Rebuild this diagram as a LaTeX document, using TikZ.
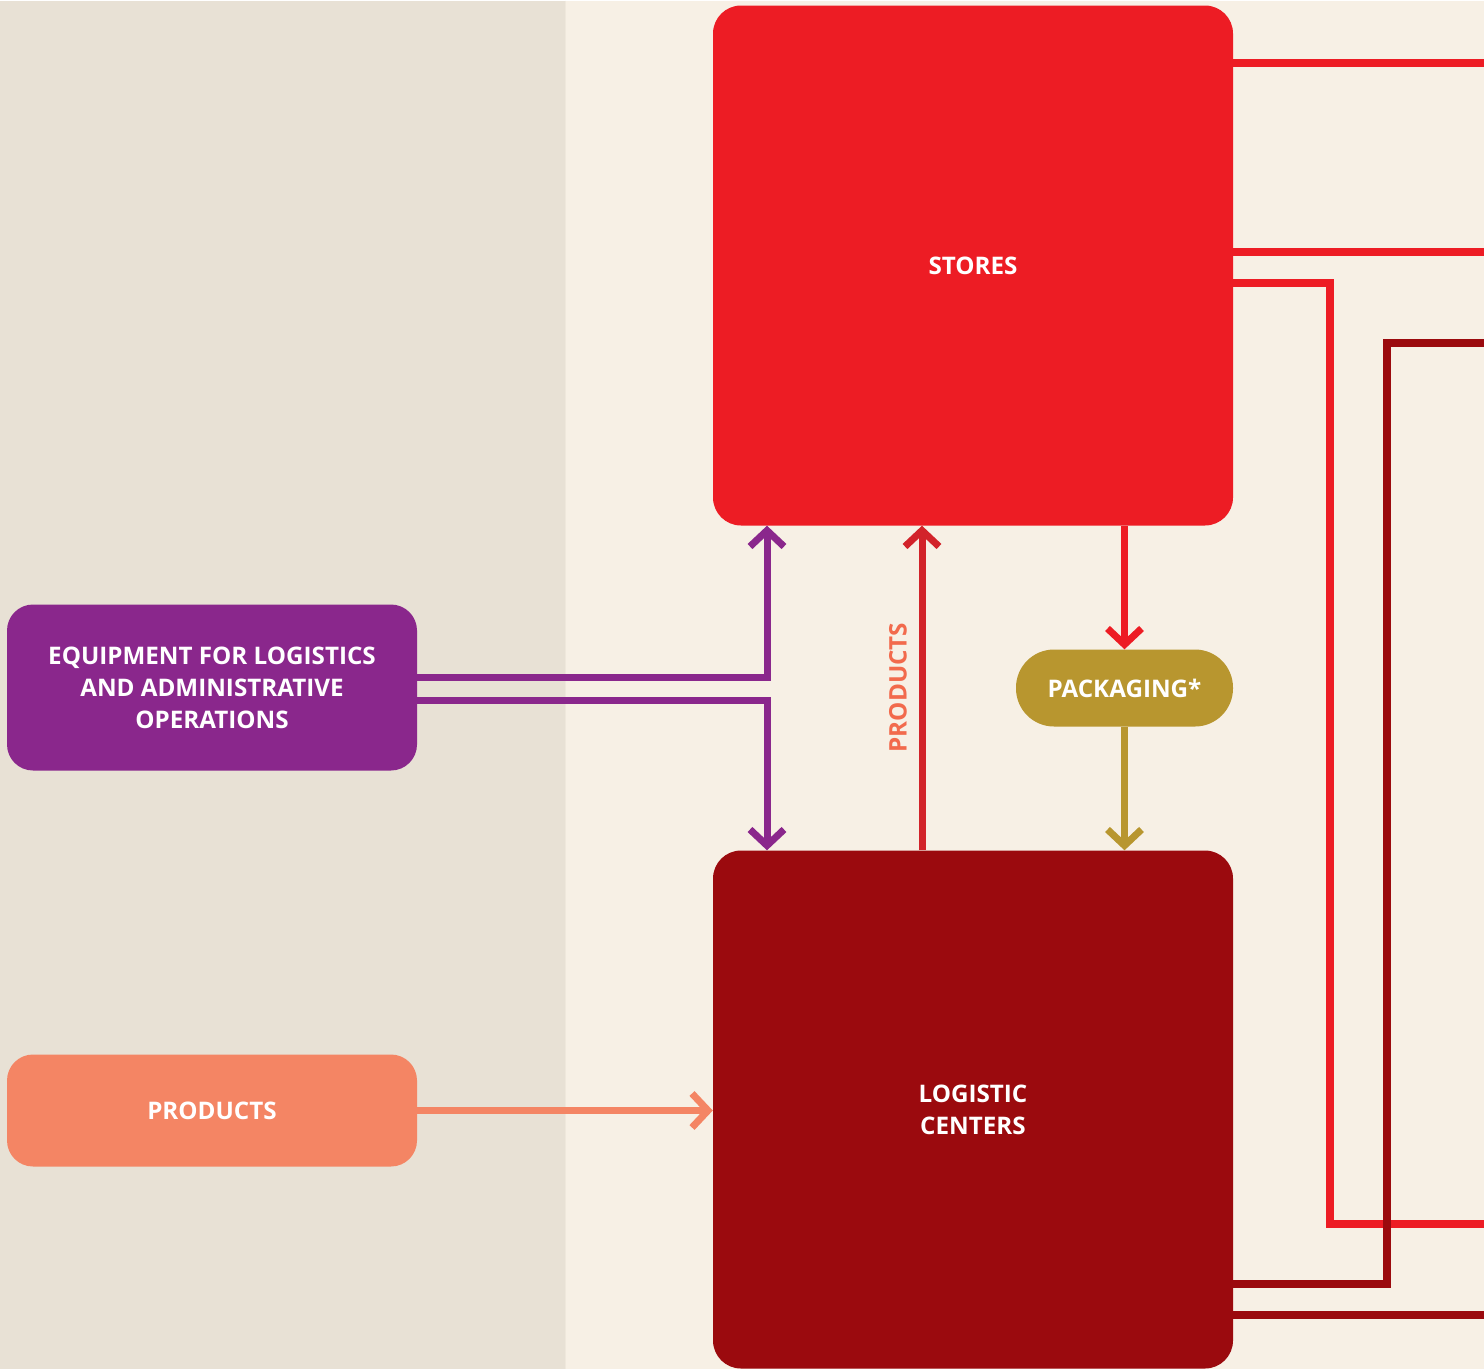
\documentclass[tikz,border=0pt]{standalone}
\usepackage{fontspec}
\setmainfont{Open Sans}
\usetikzlibrary{arrows.meta}

\definecolor{leftbg}{HTML}{E8E1D5}
\definecolor{rightbg}{HTML}{F7F0E5}
\definecolor{sepcol}{HTML}{EFE8DC}
\definecolor{storered}{HTML}{ED1C24}
\definecolor{logired}{HTML}{9B0A0E}
\definecolor{equippurple}{HTML}{8A278C}
\definecolor{prodsalmon}{HTML}{F48564}
\definecolor{packgold}{HTML}{B8962F}
\definecolor{prodline}{HTML}{D2232A}
\definecolor{prodlabel}{HTML}{F26A4C}

\newcommand{\boxfont}{\fontsize{24.2}{32}\selectfont\bfseries}

\begin{document}
\begin{tikzpicture}[x=1pt,y=-1pt,
  box/.style={rounded corners=28pt, text=white, font=\boxfont, align=center,
              inner sep=0pt, draw=none},
  flow/.style={line width=7pt, line join=miter},
  barb/.style={-{Straight Barb[length=16pt,width=34pt,line join=miter]}},
  exitline/.style={line width=8pt}]

% two background panels
\fill[leftbg] (0,0) rectangle (565,1368);
\fill[rightbg] (565,0) rectangle (1484,1368);
\draw[sepcol, line width=1pt] (565.5,0) -- (565.5,1368);
\useasboundingbox (0,0) rectangle (1484,1368);

% main blocks
\node[box, fill=storered, minimum width=520pt, minimum height=520pt] (stores) at (973,265) {STORES};
\node[box, fill=logired, minimum width=520pt, minimum height=518pt] (logi) at (973,1109) {LOGISTIC\\CENTERS};
\node[box, fill=equippurple, rounded corners=26pt, minimum width=410pt, minimum height=166pt] (equip) at (212,687)
  {EQUIPMENT FOR LOGISTICS\\AND ADMINISTRATIVE\\OPERATIONS};
\node[box, fill=prodsalmon, rounded corners=26pt, minimum width=410pt, minimum height=112pt] (prod) at (212,1110) {PRODUCTS};
\node[box, fill=packgold, rounded corners=38pt, minimum width=217pt, minimum height=77pt] (pack) at (1124.5,687.5) {PACKAGING*};

% helper coordinates for the connector routes
\coordinate (xeq) at (767,0);
\coordinate (xpr) at (922,0);
\coordinate (yeqa) at (0,676.5);
\coordinate (yeqb) at (0,699.5);
\coordinate (ya) at (1484,62);
\coordinate (yb) at (1484,251);
\coordinate (yc) at (0,282);
\coordinate (cx) at (1330,1223);
\coordinate (cend) at (1484,1223);
\coordinate (yd) at (0,1283);
\coordinate (dx) at (1386.5,342);
\coordinate (dend) at (1484,342);
\coordinate (ye) at (1484,1314);

% equipment flows
\draw[flow, equippurple, barb] (equip.east |- yeqa) -| (stores.south -| xeq);
\draw[flow, equippurple, barb] (equip.east |- yeqb) -| (logi.north -| xeq);

% products from logistic centers to stores
\draw[flow, prodline, barb] (logi.north -| xpr) -- (stores.south -| xpr);
\node[rotate=90, text=prodlabel, font=\boxfont] (prodlab) at (898,687) {PRODUCTS};

% packaging loop
\draw[flow, storered, barb] (stores.south -| pack.north) -- (pack.north);
\draw[flow, packgold, barb] (pack.south) -- (logi.north -| pack.south);

% incoming products
\draw[flow, prodsalmon, barb] (prod.east) -- (logi.west |- prod.east);

% outgoing lines on the right
\draw[exitline, storered] (stores.east |- ya) -- (ya);
\draw[exitline, storered] (stores.east |- yb) -- (yb);
\draw[exitline, storered, line join=miter] (stores.east |- yc) -| (cx) -- (cend);
\draw[exitline, logired, line join=miter] (logi.east |- yd) -| (dx) -- (dend);
\draw[exitline, logired] (logi.east |- ye) -- (ye);
\end{tikzpicture}
\end{document}
